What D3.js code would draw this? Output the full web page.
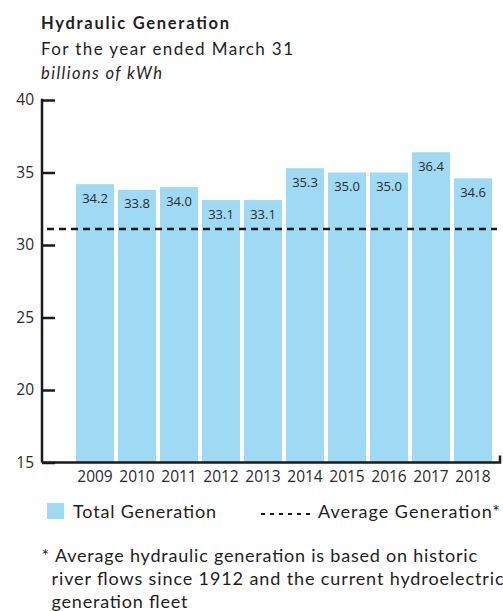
<!DOCTYPE html>
<html>
<head>
<meta charset="utf-8">
<script src="https://cdn.jsdelivr.net/npm/d3@7/dist/d3.min.js"></script>
<style>
  html, body { margin: 0; padding: 0; background: #fff; }
  svg { display: block; }
  .sans { font-family: Lato, "Open Sans", sans-serif; fill: #1e1e1e; }
  .num { font-family: "Open Sans", "Noto Sans", sans-serif; fill: #2a2a2a; }
</style>
</head>
<body>
<svg id="chart" width="503" height="611"></svg>
<script>
// Hydraulic generation by fiscal year (billions of kWh)
const years = ["2009", "2010", "2011", "2012", "2013", "2014", "2015", "2016", "2017", "2018"];
const generation = [34.2, 33.8, 34.0, 33.1, 33.1, 35.3, 35.0, 35.0, 36.4, 34.6];
const averageGeneration = [31.1];
const yTicks = [15, 20, 25, 30, 35, 40];

const svg = d3.select("#chart");
const barColor = "#9fdaf5";
const ink = "#1a1a1a";

const axisX = 42, axisRight = 500;
const y = d3.scaleLinear().domain([15, 40]).range([462.5, 100]);
const x = d3.scaleBand().domain(years).range([74, 494])
  .paddingInner(4 / 42).paddingOuter(2 / 42);

// Text helper: draws a line of text stretched to a given width
function label(xPos, yPos, size, str, width, opts = {}) {
  const t = svg.append("text").attr("class", "sans")
    .attr("x", xPos).attr("y", yPos)
    .style("font-size", size + "px")
    .text(str);
  if (opts.bold) t.style("font-weight", "700");
  if (opts.italic) t.style("font-style", "italic");
  if (width) t.attr("textLength", width).attr("lengthAdjust", "spacing");
  return t;
}

// Titles
label(41, 28.5, 16.5, "Hydraulic Generation", 188, { bold: true });
label(41, 54.5, 17, "For the year ended March 31", 252);
label(41, 79, 16.5, "billions of kWh", 121, { italic: true });

// Bars
svg.append("g").selectAll("rect").data(years).join("rect")
  .attr("x", d => x(d))
  .attr("width", x.bandwidth())
  .attr("y", (d, i) => y(generation[i]))
  .attr("height", (d, i) => y(15) - y(generation[i]))
  .attr("fill", barColor);

// Value labels inside bar tops
svg.append("g").selectAll("text").data(years).join("text")
  .attr("class", "num")
  .attr("x", d => x(d) + x.bandwidth() / 2)
  .attr("y", (d, i) => y(generation[i]) + 18.5)
  .attr("text-anchor", "middle")
  .style("font-size", "13px")
  .text((d, i) => generation[i].toFixed(1));

// Average generation line
svg.append("line")
  .attr("x1", 47).attr("x2", 497)
  .attr("y1", y(averageGeneration[0])).attr("y2", y(averageGeneration[0]))
  .attr("stroke", ink).attr("stroke-width", 2.5)
  .attr("stroke-dasharray", "7,5");

// Y axis with inward ticks
const yAxis = svg.append("g").attr("transform", `translate(${axisX},0)`)
  .call(d3.axisLeft(y).tickValues(yTicks).tickSize(-13).tickPadding(8).tickFormat(d3.format("d")));
yAxis.select(".domain").remove();
yAxis.selectAll(".tick line").attr("stroke", ink).attr("stroke-width", 2.5);
yAxis.selectAll(".tick text").attr("fill", "#2a2a2a")
  .style("font-size", "15.5px").style("font-family", "'Open Sans', 'Noto Sans', sans-serif");
yAxis.append("line").attr("x1", 0).attr("x2", 0)
  .attr("y1", y(40) - 1.2).attr("y2", y(15))
  .attr("stroke", ink).attr("stroke-width", 2.5);

// X axis baseline with right end tick
svg.append("path")
  .attr("d", `M${axisX},${y(15)}H${axisRight}V${y(15) - 7}`)
  .attr("fill", "none").attr("stroke", ink).attr("stroke-width", 2.5);

const xAxis = svg.append("g").attr("transform", `translate(0,${y(15)})`)
  .call(d3.axisBottom(x).tickSize(0).tickPadding(8));
xAxis.select(".domain").remove();
xAxis.selectAll(".tick text").attr("fill", "#2a2a2a")
  .style("font-size", "15.5px").style("font-family", "'Open Sans', 'Noto Sans', sans-serif");

// Legend
svg.append("rect").attr("x", 47).attr("y", 503).attr("width", 17).attr("height", 16).attr("fill", barColor);
label(73, 518, 18, "Total Generation", 143);
svg.append("line").attr("x1", 261).attr("x2", 315).attr("y1", 514).attr("y2", 514)
  .attr("stroke", ink).attr("stroke-width", 1.8).attr("stroke-dasharray", "4,5");
label(318, 518, 18, "Average Generation*", 182);

// Footnote
label(41.5, 562, 18, "*");
label(55, 562, 18, "Average hydraulic generation is based on historic", 422);
label(51.5, 585, 18, "river flows since 1912 and the current hydroelectric", 452);
label(51.5, 607.5, 18, "generation fleet", 136);
</script>
</body>
</html>
